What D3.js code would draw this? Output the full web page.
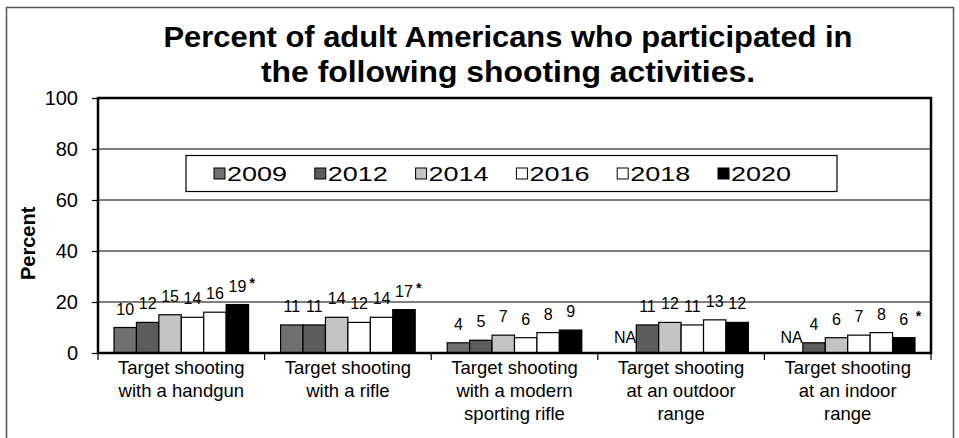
<!DOCTYPE html>
<html>
<head>
<meta charset="utf-8">
<script src="https://cdn.jsdelivr.net/npm/d3@7"></script>
<style>
  body { margin: 0; background: #fff; }
  text { font-family: "Liberation Sans", Arial, sans-serif; fill: #000; }
</style>
</head>
<body>
<div id="chart-area"></div>
<script>
// data
var categories = [
    ["Target shooting", "with a handgun"],
    ["Target shooting", "with a rifle"],
    ["Target shooting", "with a modern", "sporting rifle"],
    ["Target shooting", "at an outdoor", "range"],
    ["Target shooting", "at an indoor", "range"]
];
var years = ["2009", "2012", "2014", "2016", "2018", "2020"];
var v2009 = [10, 11, 4, null, null];
var v2012 = [12, 11, 5, 11, 4];
var v2014 = [15, 14, 7, 12, 6];
var v2016 = [14, 12, 6, 11, 7];
var v2018 = [16, 14, 8, 13, 8];
var v2020 = [19, 17, 9, 12, 6];
var starred2020 = [true, true, false, false, true];
var yTicks = [0, 20, 40, 60, 80, 100];

var fills = { "2009": "#707070", "2012": "#5c5c5c", "2014": "#c4c4c4",
              "2016": "#ffffff", "2018": "#ffffff", "2020": "#000000" };

var W = 959, H = 438;
var margin = { left: 98, right: 28, top: 98, bottom: 85 };

var svg = d3.select("#chart-area")
    .append("svg")
        .attr("width", W)
        .attr("height", H);

// outer frame
svg.append("rect")
    .attr("x", 6.5).attr("y", 7.5)
    .attr("width", W - 12).attr("height", H)
    .attr("fill", "none").attr("stroke", "#555").attr("stroke-width", 1.5);

// title
var title = svg.append("text")
    .attr("text-anchor", "middle")
    .attr("font-weight", "bold")
    .attr("font-size", 30);
title.append("tspan").attr("x", 508).attr("y", 47)
    .attr("textLength", 689).attr("lengthAdjust", "spacingAndGlyphs")
    .text("Percent of adult Americans who participated in");
title.append("tspan").attr("x", 508).attr("y", 82)
    .attr("textLength", 494).attr("lengthAdjust", "spacingAndGlyphs")
    .text("the following shooting activities.");

var x0 = d3.scaleBand()
    .domain(d3.range(categories.length))
    .range([margin.left, W - margin.right]);

var x1 = d3.scaleBand()
    .domain(years)
    .range([16, x0.bandwidth() - 16]);

var y = d3.scaleLinear()
    .domain([0, 100])
    .range([H - margin.bottom, margin.top]);

var g = svg.append("g");

// grid lines
g.selectAll(".grid")
    .data(yTicks.filter(d => d > 0 && d < 100))
    .join("line")
        .attr("x1", margin.left).attr("x2", W - margin.right)
        .attr("y1", d => y(d)).attr("y2", d => y(d))
        .attr("stroke", "#000").attr("stroke-width", 1.2);

// y axis
var yAxis = g.append("g")
    .attr("transform", "translate(" + margin.left + ",0)")
    .call(d3.axisLeft(y).tickValues(yTicks).tickSize(6).tickPadding(14));
yAxis.select(".domain").remove();
yAxis.selectAll("line").attr("stroke", "#000").attr("stroke-width", 1.2);
yAxis.selectAll("text")
    .attr("font-size", 20)
    .attr("font-family", "Liberation Sans, Arial, sans-serif");

svg.append("text")
    .attr("transform", "translate(35," + y(43) + ") rotate(-90)")
    .attr("text-anchor", "middle")
    .attr("font-weight", "bold")
    .attr("font-size", 20)
    .text("Percent");

// bars
var series = [v2009, v2012, v2014, v2016, v2018, v2020];
var cells = [];
categories.forEach((c, i) => {
    years.forEach((yr, j) => {
        cells.push({ cat: i, year: yr, value: series[j][i],
                     star: yr === "2020" && starred2020[i] });
    });
});

g.selectAll(".bar")
    .data(cells)
    .join("rect")
        .attr("class", "bar")
        .attr("x", d => x0(d.cat) + x1(d.year))
        .attr("width", x1.bandwidth())
        .attr("y", d => y(d.value || 0))
        .attr("height", d => y(0) - y(d.value || 0))
        .attr("fill", d => fills[d.year])
        .attr("stroke", "#000")
        .attr("stroke-width", d => d.value == null ? 0 : 1.2);

// value labels
g.selectAll(".lbl")
    .data(cells)
    .join("text")
        .attr("class", "lbl")
        .attr("x", d => x0(d.cat) + x1(d.year) + x1.bandwidth() / 2)
        .attr("y", d => y(d.value || 0) - (d.value == null ? 10 : 13))
        .attr("text-anchor", "middle")
        .attr("font-size", 16)
        .text(d => d.value == null ? "NA" : d.value);

g.selectAll(".star")
    .data(cells.filter(d => d.star))
    .join("text")
        .attr("class", "star")
        .attr("x", d => x0(d.cat) + x1(d.year) + x1.bandwidth() / 2 + 12)
        .attr("y", d => y(d.value) - 17)
        .attr("font-size", 14)
        .attr("font-weight", "bold")
        .text("*");

// plot frame
g.append("rect")
    .attr("x", margin.left).attr("y", y(100))
    .attr("width", W - margin.right - margin.left)
    .attr("height", y(0) - y(100))
    .attr("fill", "none").attr("stroke", "#000").attr("stroke-width", 2.5);

// x axis ticks and category labels
var xAxis = g.append("g")
    .attr("transform", "translate(0," + y(0) + ")");
xAxis.selectAll("line")
    .data(d3.range(categories.length + 1))
    .join("line")
        .attr("x1", d => margin.left + d * x0.bandwidth())
        .attr("x2", d => margin.left + d * x0.bandwidth())
        .attr("y1", 0).attr("y2", 7)
        .attr("stroke", "#000").attr("stroke-width", 1.2);

xAxis.selectAll(".cat")
    .data(categories)
    .join("text")
        .attr("class", "cat")
        .attr("text-anchor", "middle")
        .attr("font-size", 18.5)
        .each(function (lines, i) {
            d3.select(this).selectAll("tspan")
                .data(lines)
                .join("tspan")
                    .attr("x", x0(i) + x0.bandwidth() / 2)
                    .attr("y", (d, k) => 21 + k * 23)
                    .text(d => d);
        });

// legend
var lg = svg.append("g");
lg.append("rect")
    .attr("x", 186).attr("y", 155.5)
    .attr("width", 651).attr("height", 36)
    .attr("fill", "#fff").attr("stroke", "#000").attr("stroke-width", 1.2);

var items = lg.selectAll(".item")
    .data(years)
    .join("g")
        .attr("class", "item")
        .attr("transform", (d, i) => "translate(" + (214 + i * 100.8) + ",168)");
items.append("rect")
    .attr("width", 11).attr("height", 11)
    .attr("fill", d => fills[d])
    .attr("stroke", "#000").attr("stroke-width", 1);
items.append("text")
    .attr("x", 13).attr("y", 12.5)
    .attr("font-size", 21)
    .attr("textLength", 60).attr("lengthAdjust", "spacingAndGlyphs")
    .text(d => d);
</script>
</body>
</html>
